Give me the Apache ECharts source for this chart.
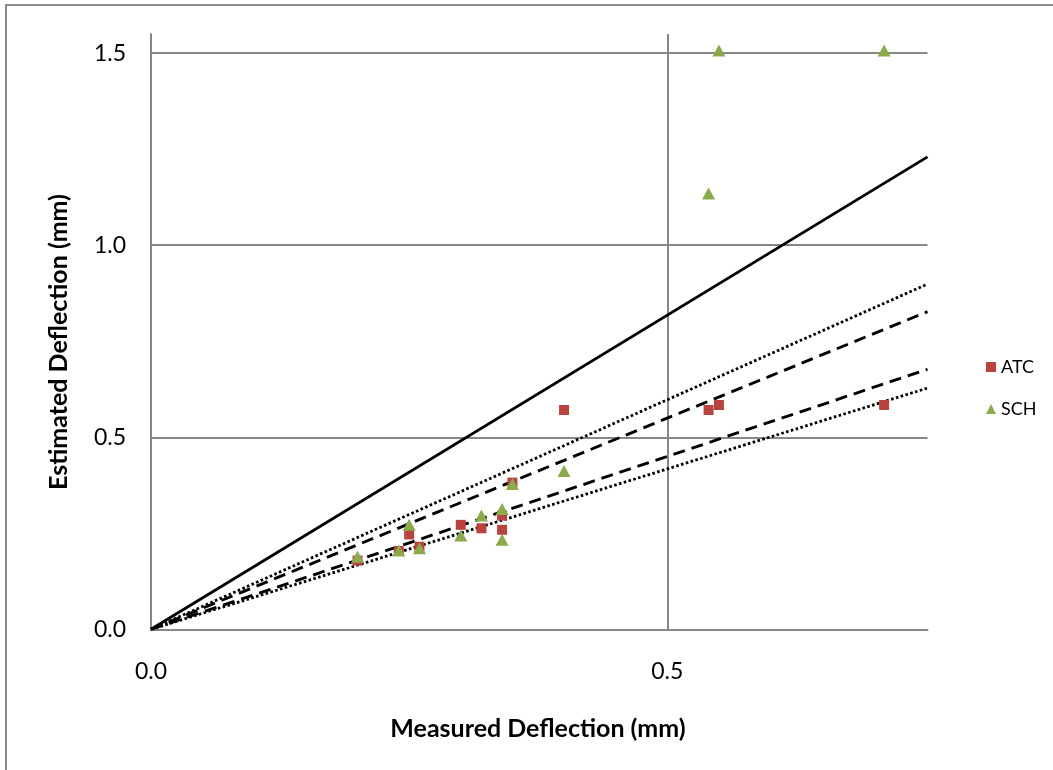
<!DOCTYPE html>
<html>
<head>
<meta charset="utf-8">
<script src="https://cdn.jsdelivr.net/npm/echarts@6/dist/echarts.min.js"></script>
<style>
  html, body { margin: 0; padding: 0; background: #ffffff; }
  #chart { width: 1053px; height: 770px; }
</style>
</head>
<body>
<div id="chart"></div>
<script>
// Measured deflection (mm) for each test point, shared by both estimators
const measured = [0.20, 0.24, 0.25, 0.26, 0.30, 0.32, 0.34, 0.34, 0.35, 0.40, 0.54, 0.55, 0.71];
// Estimated deflection (mm) by method
const atcEstimated = [0.179, 0.204, 0.247, 0.215, 0.272, 0.263, 0.296, 0.259, 0.382, 0.571, 0.571, 0.584, 0.584];
const schEstimated = [0.189, 0.205, 0.272, 0.211, 0.244, 0.296, 0.313, 0.233, 0.378, 0.412, 1.135, 1.507, 1.507];
const seriesNames = ['ATC', 'SCH'];

// Reference lines through the origin: end value at the right edge of the plot
const refLineEndX = 0.752;
const refLineEndY = [1.230, 0.899, 0.827, 0.677, 0.628];
const refLineKinds = ['solid', 'dotted', 'dashed', 'dashed', 'dotted'];

const FONT = 'Lato';
const GRID_GRAY = '#878787';

const dashPatterns = {
  solid: { type: 'solid', width: 2.8 },
  dashed: { type: [12, 7], width: 2.9 },
  dotted: { type: [2.6, 2.4], width: 2.8 }
};

const refSeries = refLineEndY.map((yEnd, i) => ({
  type: 'line',
  name: 'ref' + i,
  data: [[0, 0], [refLineEndX, yEnd]],
  showSymbol: false,
  symbol: 'none',
  silent: true,
  z: 2,
  lineStyle: Object.assign({ color: '#000000', cap: 'butt' }, dashPatterns[refLineKinds[i]])
}));

const pair = (ys) => measured.map((x, i) => [x, ys[i]]);

const chart = echarts.init(document.getElementById('chart'), null, { renderer: 'canvas' });

chart.setOption({
  backgroundColor: '#ffffff',
  animation: false,
  textStyle: { fontFamily: FONT, color: '#000000' },
  grid: { left: 151, top: 34, right: 125.5, bottom: 140.7, containLabel: false },
  xAxis: {
    type: 'value',
    min: 0,
    max: refLineEndX,
    interval: 0.5,
    axisLine: { show: true, onZero: false, lineStyle: { color: GRID_GRAY, width: 2 } },
    axisTick: { show: false },
    axisLabel: {
      margin: 31,
      fontSize: 23,
      fontFamily: FONT,
      color: '#000000',
      showMaxLabel: false,
      formatter: (v) => v.toFixed(1)
    },
    splitLine: { show: true, showMinLine: false, showMaxLine: false, lineStyle: { color: GRID_GRAY, width: 2 } }
  },
  yAxis: {
    type: 'value',
    min: 0,
    max: 1.55,
    interval: 0.5,
    axisLine: { show: true, onZero: false, lineStyle: { color: GRID_GRAY, width: 2 } },
    axisTick: { show: false },
    axisLabel: {
      margin: 25,
      fontSize: 23,
      fontFamily: FONT,
      color: '#000000',
      showMaxLabel: false,
      formatter: (v) => v.toFixed(1)
    },
    splitLine: { show: true, showMinLine: false, showMaxLine: false, lineStyle: { color: GRID_GRAY, width: 2 } }
  },
  legend: {
    orient: 'vertical',
    left: 986,
    top: 358,
    padding: 0,
    itemGap: 24,
    itemWidth: 10,
    itemHeight: 10,
    textStyle: { fontFamily: FONT, fontSize: 18, color: '#000000' },
    data: [
      { name: seriesNames[0], icon: 'rect', itemStyle: { opacity: 1 } },
      { name: seriesNames[1], icon: 'triangle', itemStyle: { opacity: 1 } }
    ]
  },
  graphic: [
    {
      type: 'rect',
      silent: true,
      shape: { x: 6, y: 5, width: 1200, height: 900 },
      style: { fill: 'none', stroke: '#8c8c8c', lineWidth: 2 }
    },
    {
      type: 'text',
      x: 538,
      y: 729,
      style: {
        text: 'Measured Deflection (mm)',
        font: 'bold 25px ' + FONT,
        fill: '#000000',
        align: 'center',
        verticalAlign: 'middle'
      }
    },
    {
      type: 'text',
      x: 59,
      y: 342,
      rotation: Math.PI / 2,
      style: {
        text: 'Estimated Deflection (mm)',
        font: 'bold 25px ' + FONT,
        fill: '#000000',
        align: 'center',
        verticalAlign: 'middle'
      }
    }
  ],
  series: refSeries.concat([
    {
      type: 'scatter',
      name: seriesNames[0],
      data: pair(atcEstimated),
      symbol: 'rect',
      symbolSize: 10,
      z: 5,
      itemStyle: { color: '#B9433F', opacity: 1 }
    },
    {
      type: 'scatter',
      name: seriesNames[1],
      data: pair(schEstimated),
      symbol: 'triangle',
      symbolSize: [13, 12],
      z: 6,
      itemStyle: { color: '#8BAA4C', opacity: 1 }
    }
  ])
});
</script>
</body>
</html>
